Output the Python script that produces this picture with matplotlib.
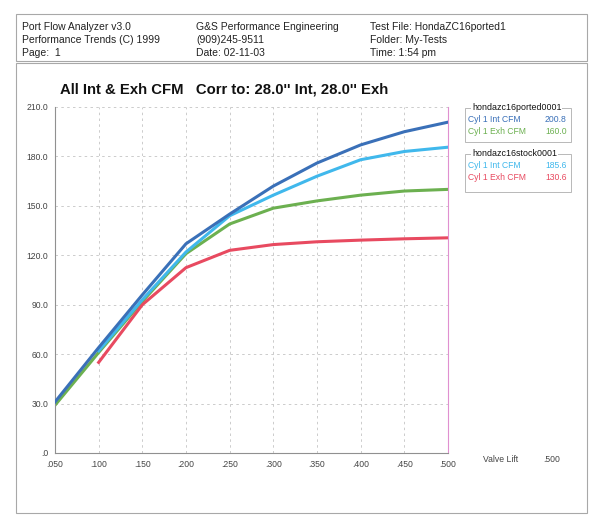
import matplotlib
matplotlib.use('Agg')
import matplotlib.pyplot as plt
from matplotlib.patches import Rectangle
import numpy as np

plt.rcParams['font.family'] = ['Liberation Sans', 'DejaVu Sans']

# valve lift (inches)
lift = [.050, .100, .150, .200, .250, .300, .350, .400, .450, .500]

# flow (CFM)
ported_int = [31, 64, 96, 127, 145, 162, 176, 187, 195, 200.8]
ported_exh = [29, 61, 92, 121, 139, 148.6, 153, 156.5, 159, 160.0]
stock_lift = [.100, .150, .200, .250, .300, .350, .400, .450, .500]
stock_int = [62, 93, 122, 144, 156.5, 168, 178, 183, 185.6]
stock_exh = [55, 90, 112.5, 123, 126.5, 128.2, 129.2, 130, 130.6]

xticks = [.050, .100, .150, .200, .250, .300, .350, .400, .450, .500]
xlabels = ['.050', '.100', '.150', '.200', '.250', '.300', '.350', '.400', '.450', '.500']
yticks = [0, 30, 60, 90, 120, 150, 180, 210]
ylabels = ['.0', '30.0', '60.0', '90.0', '120.0', '150.0', '180.0', '210.0']

c_pint = '#3a70b8'
c_pexh = '#6cb050'
c_sint = '#40b8ec'
c_sexh = '#e84a60'

W, H = 600, 526
fig = plt.figure(figsize=(6, 5.26), dpi=100)
fig.patch.set_facecolor('white')

def fx(px):
    return px / W

def fy(py):
    return 1 - py / H

def box(x0, y0, x1, y1, color='#a8a8a8', lw=0.8):
    fig.patches.append(Rectangle((fx(x0), fy(y1)), fx(x1) - fx(x0), fy(y0) - fy(y1),
                                 transform=fig.transFigure, fill=False, edgecolor=color, lw=lw))

# page frames
box(16, 14, 587, 61)
box(16, 63, 587, 513)

# header
hdr = [(22, ['Port Flow Analyzer v3.0', 'Performance Trends (C) 1999', 'Page:  1']),
       (196, ['G&S Performance Engineering', '(909)245-9511', 'Date: 02-11-03']),
       (370, ['Test File: HondaZC16ported1', 'Folder: My-Tests', 'Time: 1:54 pm'])]
for x, lines in hdr:
    for i, s in enumerate(lines):
        fig.text(fx(x), fy(27 + i * 12.8), s, fontsize=7.5, va='center', ha='left', color='#222222')

fig.text(fx(60), fy(89), "All Int & Exh CFM   Corr to: 28.0'' Int, 28.0'' Exh",
         fontsize=10.7, fontweight='bold', va='center', ha='left', color='#111111')

ax = fig.add_axes([fx(55), fy(453), fx(448) - fx(55), fy(107) - fy(453)])
ax.plot(lift, ported_int, color=c_pint, lw=2.2, zorder=4)
ax.plot(stock_lift, stock_int, color=c_sint, lw=2.2, zorder=3)
ax.plot(lift, ported_exh, color=c_pexh, lw=2.2, zorder=2)
ax.plot(stock_lift, stock_exh, color=c_sexh, lw=2.2, zorder=2)

ax.set_xlim(.050, .500)
ax.set_ylim(0, 210)
ax.set_xticks(xticks)
ax.set_xticklabels(xlabels)
ax.set_yticks(yticks)
ax.set_yticklabels(ylabels)
ax.tick_params(length=0, labelsize=6.2, colors='#444444', pad=5)
ax.grid(color='#c4c4c4', linestyle=(0, (3, 4)), lw=0.6)
ax.spines['top'].set_visible(False)
ax.spines['right'].set_color('#e090d0')
ax.spines['left'].set_color('#909090')
ax.spines['bottom'].set_color('#909090')

fig.text(fx(483), fy(459), 'Valve Lift', fontsize=6.2, va='center', ha='left', color='#444444')
fig.text(fx(543), fy(459), '.500', fontsize=6.2, va='center', ha='left', color='#444444')

# legend group boxes
groups = [(108, 142, 'hondazc16ported0001',
           [('Cyl 1 Int CFM', '200.8', c_pint), ('Cyl 1 Exh CFM', '160.0', c_pexh)]),
          (154, 192, 'hondazc16stock0001',
           [('Cyl 1 Int CFM', '185.6', c_sint), ('Cyl 1 Exh CFM', '130.6', c_sexh)])]
for y0, y1, title, rows in groups:
    box(465, y0, 571, y1, color='#b8b8b8', lw=0.7)
    fig.text(fx(472), fy(y0), title, fontsize=6.4, va='center', ha='left', color='#111111',
             bbox=dict(facecolor='white', edgecolor='none', pad=0.5))
    for i, (lab, val, col) in enumerate(rows):
        fig.text(fx(468), fy(y0 + 12 + i * 12), lab, fontsize=6.2, va='center', ha='left', color=col)
        fig.text(fx(545), fy(y0 + 12 + i * 12), val, fontsize=6.2, va='center', ha='left', color=col)

fig.savefig('out.png', dpi=100)
